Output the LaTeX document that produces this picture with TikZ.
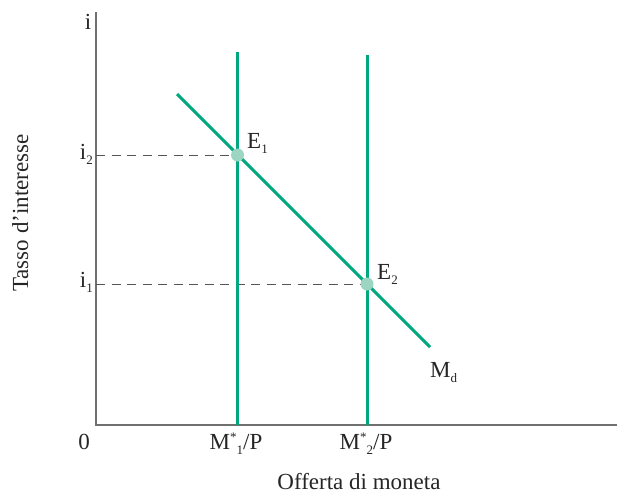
\documentclass[tikz,border=0pt]{standalone}
\usepackage{fontspec}
\setmainfont{Liberation Serif}
\definecolor{curve}{HTML}{00A77F}
\definecolor{eqdot}{HTML}{9CD6C2}
\definecolor{axisgray}{HTML}{707070}
\definecolor{dashgray}{HTML}{555555}
\newcommand{\lsub}[1]{\raisebox{-5pt}{\fontsize{13}{13}\selectfont #1}}
\newcommand{\lsup}[1]{\raisebox{8pt}{\fontsize{13}{13}\selectfont #1}}
\begin{document}
\begin{tikzpicture}[x=1pt,y=-1pt,
  lbl/.style={inner sep=0pt,font=\fontsize{23}{27}\selectfont,text=black!85},
  axisline/.style={draw=axisgray,line width=1.6pt},
  curveline/.style={draw=curve,line width=3pt},
  guide/.style={draw=dashgray,line width=0.9pt,dash pattern=on 9pt off 6.5pt},
  eqpoint/.style={circle,fill=eqdot,inner sep=0pt,minimum size=13pt}]
\useasboundingbox (0,0) rectangle (618,495);
% axes
\coordinate (O) at (96,425);
\coordinate (ytop) at (96,12);
\coordinate (xend) at (617,425);
\draw[axisline] (ytop) -- (O) -- (xend);
% supply lines
\coordinate (s1top) at (237.5,52);
\coordinate (s1bot) at (237.5,425);
\coordinate (s2top) at (367,55);
\coordinate (s2bot) at (367,425);
% demand
\coordinate (mdA) at (177,94);
\coordinate (mdB) at (430,347);
% equilibria
\coordinate (e1) at (237.5,155);
\coordinate (e2) at (367,284);
\coordinate (y2) at (96,155);
\coordinate (y1) at (96,284);
\draw[guide] (y2) -- (e1);
\draw[guide] (y1) -- (e2);
\draw[curveline] (s1top) -- (s1bot);
\draw[curveline] (s2top) -- (s2bot);
\draw[curveline] (mdA) -- (mdB);
\node[eqpoint] (E1) at (e1) {};
\node[eqpoint] (E2) at (e2) {};
% labels
\node[lbl,anchor=base] (li) at (88,30) {i};
\node[lbl,anchor=base east] (li2) at (93,159) {i\lsub{2}};
\node[lbl,anchor=base east] (li1) at (93,287) {i\lsub{1}};
\node[lbl,anchor=base west] (lE1) at (247,148) {E\lsub{1}};
\node[lbl,anchor=base west] (lE2) at (377,279) {E\lsub{2}};
\node[lbl,anchor=base west] (lMd) at (430,377) {M\lsub{d}};
\node[lbl,anchor=base] (l0) at (84,449) {0};
\node[lbl,anchor=base] (lM1) at (236,449) {M\lsup{*}\lsub{1}/P};
\node[lbl,anchor=base] (lM2) at (366,449) {M\lsup{*}\lsub{2}/P};
\node[lbl,anchor=base] (lx) at (359,489) {Offerta di moneta};
\node[lbl,anchor=base,rotate=90] (ly) at (28,213) {Tasso d'interesse};
\end{tikzpicture}
\end{document}
